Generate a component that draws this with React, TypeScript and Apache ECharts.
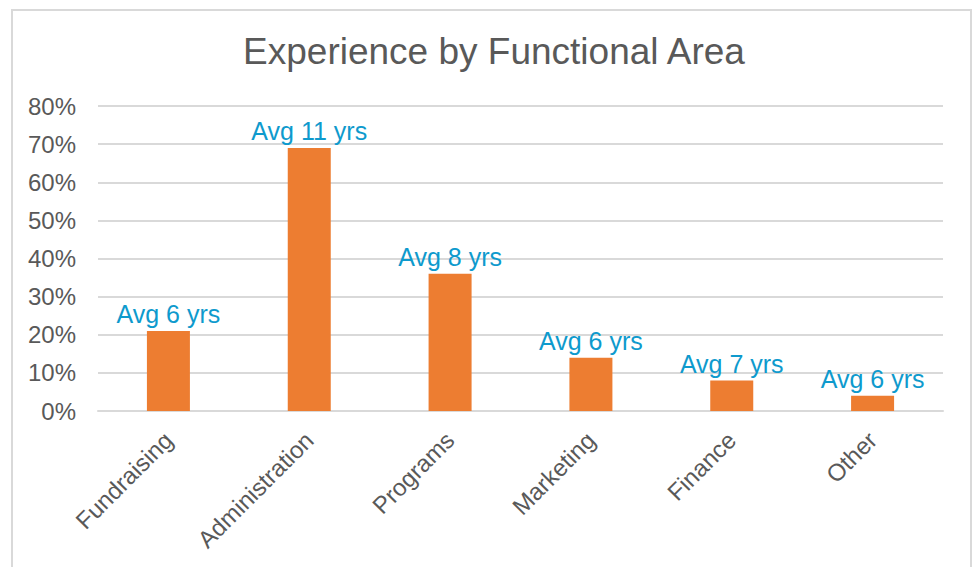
import React, { useEffect, useRef } from "react";
import * as echarts from "echarts";

const categories = ["Fundraising", "Administration", "Programs", "Marketing", "Finance", "Other"];
const shares = [21, 69, 36, 14, 8, 4];
const avgLabels = ["Avg 6 yrs", "Avg 11 yrs", "Avg 8 yrs", "Avg 6 yrs", "Avg 7 yrs", "Avg 6 yrs"];
const titleText = "Experience by Functional Area";

export default function App() {
  const ref = useRef<HTMLDivElement>(null);
  useEffect(() => {
    if (!ref.current) return;
    const chart = echarts.init(ref.current, null, { renderer: "svg" });
    const font = "'Liberation Sans', Arial, sans-serif";
    chart.setOption({
      animation: false,
      backgroundColor: "#ffffff",
      textStyle: { fontFamily: font },
      title: {
        text: titleText,
        left: 489,
        top: 28,
        textAlign: "center",
        textStyle: { fontFamily: font, fontSize: 37, fontWeight: "normal", color: "#595959" },
      },
      graphic: [
        {
          type: "rect",
          shape: { x: 12, y: 10, width: 959, height: 600 },
          style: { fill: "none", stroke: "#d9d9d9", lineWidth: 2 },
          silent: true,
        },
      ],
      grid: { left: 98, right: 31, top: 106, bottom: 156, containLabel: false },
      xAxis: {
        type: "category",
        data: categories,
        axisLine: { show: true, lineStyle: { color: "#d9d9d9", width: 2 } },
        axisTick: { show: false },
        axisLabel: {
          rotate: 45,
          interval: 0,
          margin: 25,
          fontSize: 24,
          color: "#595959",
          fontFamily: font,
        },
      },
      yAxis: {
        type: "value",
        min: 0,
        max: 80,
        interval: 10,
        axisLine: { show: false },
        axisTick: { show: false },
        splitLine: { lineStyle: { color: "#d9d9d9", width: 2 } },
        axisLabel: {
          formatter: "{value}%",
          margin: 22,
          fontSize: 24,
          color: "#595959",
          fontFamily: font,
        },
      },
      series: [
        {
          type: "bar",
          data: shares,
          barWidth: 43,
          itemStyle: { color: "#ED7D31" },
          label: {
            show: true,
            position: "top",
            distance: 4,
            fontSize: 25,
            color: "#0E9ACD",
            fontFamily: font,
            formatter: (p: any) => avgLabels[p.dataIndex],
          },
        },
      ],
    });
    return () => chart.dispose();
  }, []);
  return (
    <div
      ref={ref}
      style={{ position: "fixed", left: 0, top: 0, width: 974, height: 567 }}
    />
  );
}
